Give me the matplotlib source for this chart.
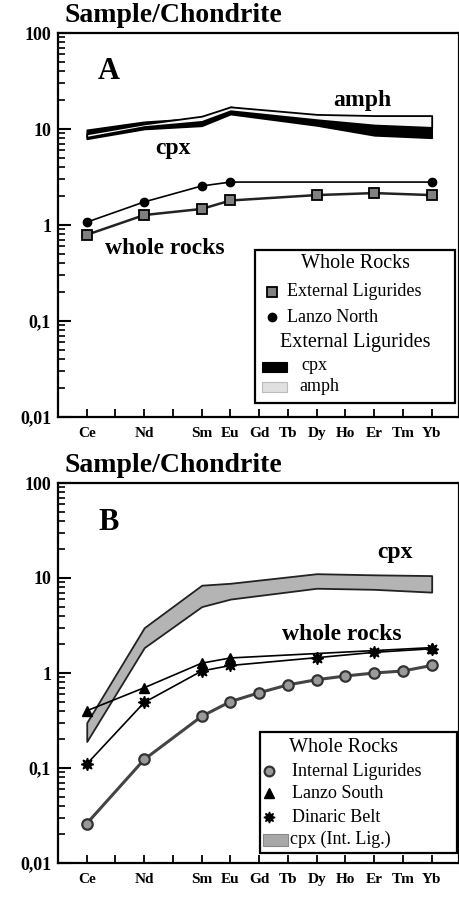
import matplotlib
matplotlib.use('Agg')
import matplotlib.pyplot as plt
from matplotlib.patches import Rectangle
from matplotlib.ticker import FixedLocator, LogLocator, NullFormatter

# ---------------- data ----------------
REE = ['La', 'Ce', 'Pr', 'Nd', 'Pm', 'Sm', 'Eu', 'Gd', 'Tb', 'Dy', 'Ho', 'Er', 'Tm', 'Yb', 'Lu']
tick_elems = ['Ce', 'Pr', 'Nd', 'Pm', 'Sm', 'Eu', 'Gd', 'Tb', 'Dy', 'Ho', 'Er', 'Tm', 'Yb']
label_elems = ['Ce', 'Nd', 'Sm', 'Eu', 'Gd', 'Tb', 'Dy', 'Ho', 'Er', 'Tm', 'Yb']
ytick_vals = [0.01, 0.1, 1, 10, 100]
ytick_labels = ['0,01', '0,1', '1', '10', '100']

# Panel A
a_band_elems = ['Ce', 'Nd', 'Sm', 'Eu', 'Dy', 'Er', 'Yb']
a_cpx_lo = [7.9, 10.0, 10.8, 14.3, 10.9, 8.6, 8.1]
a_cpx_hi = [9.8, 11.9, 13.0, 17.0, 12.6, 11.0, 10.3]
a_amph_lo = [8.2, 10.6, 12.0, 15.5, 12.5, 11.0, 10.4]
a_amph_hi = [8.9, 11.3, 13.6, 17.0, 14.2, 13.8, 13.8]

a_extlig_elems = ['Ce', 'Nd', 'Sm', 'Eu', 'Dy', 'Er', 'Yb']
a_extlig_vals = [0.79, 1.27, 1.47, 1.8, 2.05, 2.15, 2.05]
a_lanzoN_elems = ['Ce', 'Nd', 'Sm', 'Eu', 'Yb']
a_lanzoN_vals = [1.07, 1.74, 2.55, 2.8, 2.8]

# Panel B
b_band_elems = ['Ce', 'Nd', 'Sm', 'Eu', 'Dy', 'Er', 'Yb']
b_cpx_lo = [0.19, 1.85, 5.0, 6.0, 7.8, 7.6, 7.1]
b_cpx_hi = [0.30, 3.0, 8.4, 8.8, 11.1, 10.8, 10.6]

b_intlig_elems = ['Ce', 'Nd', 'Sm', 'Eu', 'Gd', 'Tb', 'Dy', 'Ho', 'Er', 'Tm', 'Yb']
b_intlig_vals = [0.026, 0.123, 0.35, 0.50, 0.62, 0.75, 0.85, 0.93, 1.0, 1.05, 1.2]
b_lanzoS_elems = ['Ce', 'Nd', 'Sm', 'Eu', 'Yb']
b_lanzoS_vals = [0.40, 0.70, 1.27, 1.44, 1.85]
b_dinaric_elems = ['Ce', 'Nd', 'Sm', 'Eu', 'Dy', 'Er', 'Yb']
b_dinaric_vals = [0.11, 0.49, 1.05, 1.2, 1.45, 1.65, 1.8]


def pos(elems):
    return [REE.index(e) for e in elems]


SERIF = ['Liberation Serif', 'DejaVu Serif']
plt.rcParams['font.family'] = SERIF

fig = plt.figure(figsize=(4.6, 8.97), dpi=100)
axA = fig.add_axes([58 / 460, 1 - 417 / 897, 401 / 460, 384 / 897])
axB = fig.add_axes([58 / 460, 1 - 863 / 897, 401 / 460, 380 / 897])


def style_axis(ax):
    ax.set_yscale('log')
    ax.set_ylim(0.01, 100)
    ax.set_xlim(0, 13.95)
    ax.yaxis.set_major_locator(FixedLocator(ytick_vals))
    ax.set_yticklabels(ytick_labels, fontsize=13, fontweight='bold')
    ax.yaxis.set_minor_locator(LogLocator(base=10, subs=range(2, 10)))
    ax.yaxis.set_minor_formatter(NullFormatter())
    ax.set_xticks(pos(tick_elems))
    ax.set_xticklabels([e if e in label_elems else '' for e in tick_elems],
                       fontsize=11, fontweight='bold')
    ax.tick_params(axis='y', which='major', direction='in', length=9, width=1.5, pad=5)
    ax.tick_params(axis='y', which='minor', direction='in', length=5, width=1.2)
    ax.tick_params(axis='x', which='major', direction='in', length=6, width=1.3, pad=7)
    for s in ax.spines.values():
        s.set_linewidth(1.6)


# ---------------- Panel A ----------------
axA.fill_between(pos(a_band_elems), a_cpx_lo, a_cpx_hi, color='black', lw=1.2, edgecolor='black', zorder=2)
axA.fill_between(pos(a_band_elems), a_amph_lo, a_amph_hi, facecolor='#f6f6f6', edgecolor='black', lw=1.3, zorder=3)
axA.plot(pos(a_lanzoN_elems), a_lanzoN_vals, color='black', lw=1.2, marker='o', ms=6,
         mfc='black', mec='black', zorder=4)
axA.plot(pos(a_extlig_elems), a_extlig_vals, color='#222222', lw=1.8, marker='s', ms=7,
         mfc='#808080', mec='black', mew=1.3, zorder=5)
style_axis(axA)

axA.text(0.017, 1.012, 'Sample/Chondrite', transform=axA.transAxes, fontsize=20,
         fontweight='bold', ha='left', va='bottom')
axA.text(0.10, 0.90, 'A', transform=axA.transAxes, fontsize=22, fontweight='bold', va='center')
axA.text(0.686, 0.825, 'amph', transform=axA.transAxes, fontsize=17, fontweight='bold', va='center')
axA.text(0.242, 0.70, 'cpx', transform=axA.transAxes, fontsize=17, fontweight='bold', va='center')
axA.text(0.117, 0.44, 'whole rocks', transform=axA.transAxes, fontsize=17, fontweight='bold', va='center')

# legend A (manual box)
axA.add_patch(Rectangle((0.491, 0.036), 0.499, 0.399, transform=axA.transAxes,
                        facecolor='white', edgecolor='black', lw=1.6, zorder=6))
axA.text(0.741, 0.401, 'Whole Rocks', transform=axA.transAxes, fontsize=14.5, ha='center', va='center', zorder=7)
axA.plot([0.534], [0.326], transform=axA.transAxes, marker='s', ms=7, mfc='#808080', mec='black',
         mew=1.3, ls='none', zorder=7, clip_on=False)
axA.text(0.571, 0.326, 'External Ligurides', transform=axA.transAxes, fontsize=13, va='center', zorder=7)
axA.plot([0.534], [0.260], transform=axA.transAxes, marker='o', ms=6, mfc='black', mec='black',
         ls='none', zorder=7, clip_on=False)
axA.text(0.571, 0.260, 'Lanzo North', transform=axA.transAxes, fontsize=13, va='center', zorder=7)
axA.text(0.741, 0.195, 'External Ligurides', transform=axA.transAxes, fontsize=14.5, ha='center', va='center', zorder=7)
axA.add_patch(Rectangle((0.509, 0.118), 0.062, 0.024, transform=axA.transAxes,
                        facecolor='black', edgecolor='black', lw=0.8, zorder=7))
axA.text(0.608, 0.133, 'cpx', transform=axA.transAxes, fontsize=13, va='center', zorder=7)
axA.add_patch(Rectangle((0.509, 0.066), 0.062, 0.024, transform=axA.transAxes,
                        facecolor='#e0e0e0', edgecolor='#bbbbbb', lw=0.8, zorder=7))
axA.text(0.603, 0.080, 'amph', transform=axA.transAxes, fontsize=13, va='center', zorder=7)

# ---------------- Panel B ----------------
axB.fill_between(pos(b_band_elems), b_cpx_lo, b_cpx_hi, facecolor='#b4b4b4', edgecolor='#222222', lw=1.3, zorder=2)
axB.plot(pos(b_intlig_elems), b_intlig_vals, color='#444444', lw=2.2, marker='o', ms=7.5,
         mfc='#9a9a9a', mec='#333333', mew=1.6, zorder=4)
axB.plot(pos(b_lanzoS_elems), b_lanzoS_vals, color='black', lw=1.2, marker='^', ms=7.5,
         mfc='black', mec='black', zorder=5)
axB.plot(pos(b_dinaric_elems), b_dinaric_vals, color='black', lw=1.2, marker=(8, 1, 0), ms=9,
         mfc='black', mec='black', zorder=5)
style_axis(axB)

axB.text(0.017, 1.012, 'Sample/Chondrite', transform=axB.transAxes, fontsize=20,
         fontweight='bold', ha='left', va='bottom')
axB.text(0.10, 0.895, 'B', transform=axB.transAxes, fontsize=22, fontweight='bold', va='center')
axB.text(0.795, 0.816, 'cpx', transform=axB.transAxes, fontsize=17, fontweight='bold', va='center')
axB.text(0.559, 0.60, 'whole rocks', transform=axB.transAxes, fontsize=17, fontweight='bold', va='center')

# legend B (manual box)
axB.add_patch(Rectangle((0.504, 0.026), 0.491, 0.319, transform=axB.transAxes,
                        facecolor='white', edgecolor='black', lw=1.6, zorder=6))
axB.text(0.713, 0.303, 'Whole Rocks', transform=axB.transAxes, fontsize=14.5, ha='center', va='center', zorder=7)
axB.plot([0.527], [0.242], transform=axB.transAxes, marker='o', ms=7, mfc='#9a9a9a', mec='#333333',
         mew=1.6, ls='none', zorder=7, clip_on=False)
axB.text(0.583, 0.242, 'Internal Ligurides', transform=axB.transAxes, fontsize=13, va='center', zorder=7)
axB.plot([0.527], [0.184], transform=axB.transAxes, marker='^', ms=7, mfc='black', mec='black',
         ls='none', zorder=7, clip_on=False)
axB.text(0.583, 0.184, 'Lanzo South', transform=axB.transAxes, fontsize=13, va='center', zorder=7)
axB.plot([0.527], [0.121], transform=axB.transAxes, marker=(8, 1, 0), ms=8, mfc='black', mec='black',
         ls='none', zorder=7, clip_on=False)
axB.text(0.583, 0.121, 'Dinaric Belt', transform=axB.transAxes, fontsize=13, va='center', zorder=7)
axB.add_patch(Rectangle((0.512, 0.045), 0.062, 0.032, transform=axB.transAxes,
                        facecolor='#a8a8a8', edgecolor='#888888', lw=0.8, zorder=7))
axB.text(0.579, 0.061, 'cpx (Int. Lig.)', transform=axB.transAxes, fontsize=13, va='center', zorder=7)

fig.savefig('out.png', dpi=100, facecolor='white')
